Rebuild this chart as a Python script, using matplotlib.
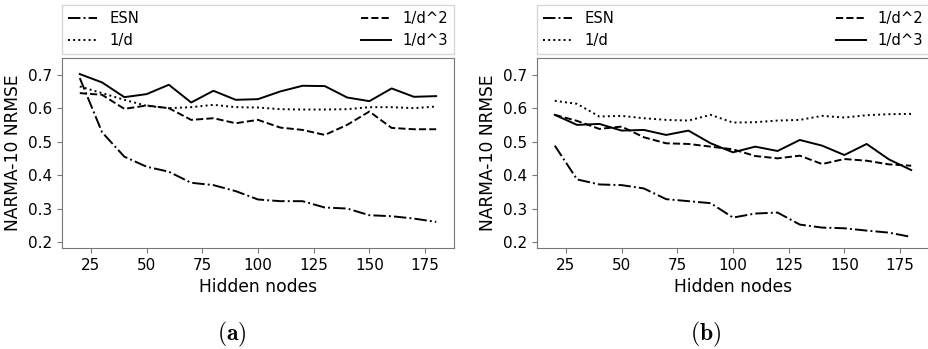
import matplotlib
matplotlib.use("Agg")
import matplotlib.pyplot as plt
import numpy as np

# hidden layer sizes
nodes = [20, 30, 40, 50, 60, 70, 80, 90, 100, 110, 120, 130, 140, 150, 160, 170, 180]

# (a) NARMA-10 NRMSE
esn_a = [0.690, 0.528, 0.455, 0.425, 0.410, 0.377, 0.370, 0.352, 0.327, 0.322, 0.322, 0.303, 0.300, 0.280, 0.277, 0.270, 0.260]
d1_a = [0.665, 0.645, 0.625, 0.607, 0.600, 0.603, 0.610, 0.603, 0.602, 0.597, 0.596, 0.596, 0.597, 0.603, 0.603, 0.600, 0.605]
d2_a = [0.645, 0.640, 0.598, 0.608, 0.600, 0.565, 0.570, 0.555, 0.565, 0.542, 0.535, 0.520, 0.550, 0.590, 0.541, 0.537, 0.537]
d3_a = [0.702, 0.677, 0.633, 0.642, 0.670, 0.617, 0.652, 0.625, 0.627, 0.650, 0.667, 0.666, 0.632, 0.621, 0.659, 0.634, 0.636]

# (b) NARMA-10 NRMSE
esn_b = [0.488, 0.387, 0.372, 0.370, 0.360, 0.328, 0.322, 0.316, 0.273, 0.285, 0.288, 0.252, 0.243, 0.241, 0.234, 0.228, 0.215]
d1_b = [0.622, 0.613, 0.575, 0.577, 0.570, 0.565, 0.563, 0.580, 0.557, 0.558, 0.563, 0.565, 0.577, 0.572, 0.579, 0.582, 0.583]
d2_b = [0.580, 0.562, 0.538, 0.545, 0.513, 0.495, 0.493, 0.485, 0.477, 0.457, 0.450, 0.458, 0.433, 0.448, 0.443, 0.432, 0.428]
d3_b = [0.580, 0.550, 0.553, 0.533, 0.535, 0.520, 0.533, 0.495, 0.468, 0.485, 0.472, 0.505, 0.488, 0.460, 0.493, 0.447, 0.415]

labels = ["ESN", "1/d", "1/d^2", "1/d^3"]
styles = ["-.", ":", "--", "-"]

plt.rcParams['mathtext.fontset'] = 'cm'
plt.rcParams['xtick.labelsize'] = 11
plt.rcParams['ytick.labelsize'] = 11
plt.rcParams['axes.labelsize'] = 12.3

fig = plt.figure(figsize=(9.29, 3.49), dpi=100)
ax_a = fig.add_axes([0.0667, 0.2894, 0.422, 0.5444])
ax_b = fig.add_axes([0.578, 0.2894, 0.422, 0.5444])

for ax, series in [(ax_a, [esn_a, d1_a, d2_a, d3_a]), (ax_b, [esn_b, d1_b, d2_b, d3_b])]:
    for vals, ls, lab in zip(series, styles, labels):
        ax.plot(nodes, vals, color='black', linestyle=ls, linewidth=1.4, label=lab)
    ax.set_ylim(0.182, 0.75)
    ax.set_yticks([0.2, 0.3, 0.4, 0.5, 0.6, 0.7])
    ax.set_xticks([25, 50, 75, 100, 125, 150, 175])
    ax.set_xlabel("Hidden nodes")
    ax.set_ylabel("NARMA-10 NRMSE")
    for sp in ax.spines.values():
        sp.set_color('#777777')
    ax.tick_params(color='#777777')
    ax.legend(bbox_to_anchor=(0, 1.02, 1, 0.26), loc='lower left', mode='expand',
              ncol=2, fontsize=10.6, borderaxespad=0, fancybox=False)

fig.text(0.249, 0.043, r'$\mathbf{(a)}$', fontsize=17, ha='center', va='center')
fig.text(0.759, 0.043, r'$\mathbf{(b)}$', fontsize=17, ha='center', va='center')

fig.savefig("out.png", dpi=100)
